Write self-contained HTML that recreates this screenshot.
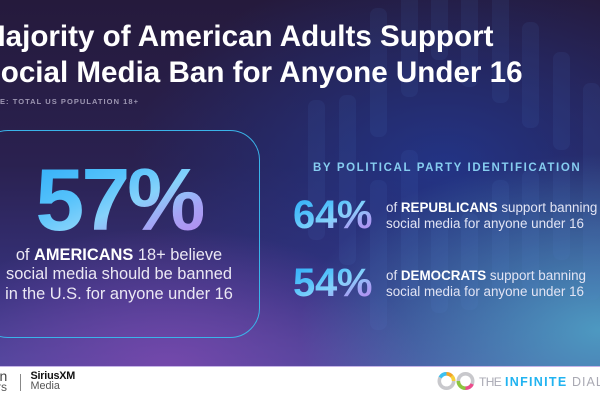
<!DOCTYPE html>
<html>
<head>
<meta charset="utf-8">
<style>
  html,body{margin:0;padding:0;}
  body{width:600px;height:400px;overflow:hidden;position:relative;background:#fff;font-family:"Liberation Sans",Arial,sans-serif;}
  .panel{position:absolute;left:0;top:0;width:600px;height:367px;overflow:hidden;
    background:
      radial-gradient(ellipse 50% 48% at 100% 90%, rgba(78,158,196,0.95), rgba(78,158,196,0) 100%),
      radial-gradient(ellipse 42% 38% at 28% 100%, rgba(118,72,172,0.95), rgba(118,72,172,0) 100%),
      radial-gradient(ellipse 52% 55% at 74% 45%, rgba(32,58,150,0.75), rgba(32,58,150,0) 100%),
      linear-gradient(180deg, #251a3c 0%, #2a2150 45%, #37337e 80%, #48479a 100%);}
  .bar{position:absolute;width:17px;border-radius:7px;background:rgba(95,135,225,0.085);}
  .abs{position:absolute;white-space:nowrap;}
  .title{left:-19px;font-size:29.6px;line-height:30px;font-weight:bold;color:#fff;}
  .grad{display:inline-block;background:linear-gradient(155deg,#2eacf8 0%,#55c2fb 35%,#86d2fb 55%,#a5a3f5 75%,#b884ef 100%);
    -webkit-background-clip:text;background-clip:text;color:transparent;-webkit-text-fill-color:transparent;}
  .rt{left:386px;font-size:13.4px;line-height:15.6px;color:#e2e4f4;}
  .rt b{color:#fff;}
</style>
</head>
<body>
<div class="panel">
  <div class="bar" style="left:308px;top:100px;height:140px;"></div>
  <div class="bar" style="left:339px;top:95px;height:170px;"></div>
  <div class="bar" style="left:370px;top:8px;height:129px;"></div>
  <div class="bar" style="left:370px;top:180px;height:150px;"></div>
  <div class="bar" style="left:401px;top:-10px;height:107px;"></div>
  <div class="bar" style="left:401px;top:150px;height:150px;"></div>
  <div class="bar" style="left:431px;top:-10px;height:70px;"></div>
  <div class="bar" style="left:431px;top:220px;height:93px;"></div>
  <div class="bar" style="left:461px;top:-10px;height:97px;"></div>
  <div class="bar" style="left:461px;top:213px;height:97px;"></div>
  <div class="bar" style="left:492px;top:-10px;height:113px;"></div>
  <div class="bar" style="left:492px;top:180px;height:113px;"></div>
  <div class="bar" style="left:522px;top:22px;height:106px;"></div>
  <div class="bar" style="left:522px;top:170px;height:120px;"></div>
  <div class="bar" style="left:553px;top:52px;height:98px;"></div>
  <div class="bar" style="left:553px;top:165px;height:95px;"></div>
  <div class="bar" style="left:583px;top:83px;height:217px;"></div>

  <div class="abs title" style="top:22.2px;">Majority of American Adults Support</div>
  <div class="abs title" style="top:58.2px;">Social Media Ban for Anyone Under 16</div>
  <div class="abs" style="left:-19px;top:98.1px;font-size:7.5px;line-height:8px;font-weight:bold;letter-spacing:1.05px;color:#9d96b2;">BASE: TOTAL US POPULATION 18+</div>

  <div class="abs" style="left:-22px;top:130px;width:282px;height:208px;box-sizing:border-box;border:1.6px solid #3ab4ea;border-radius:30px;"></div>

  <div class="abs" style="left:-1px;top:155.5px;width:240px;text-align:center;font-size:88px;line-height:88px;font-weight:bold;letter-spacing:-3px;"><span class="grad">57%</span></div>
  <div class="abs" style="left:-1px;top:245.6px;width:240px;text-align:center;font-size:16.4px;line-height:19.5px;color:#ebe8f4;">of <b style="color:#fff">AMERICANS</b> 18+ believe<br>social media should be banned<br>in the U.S. for anyone under 16</div>

  <div class="abs" style="left:313px;top:161.5px;font-size:11.5px;line-height:12px;font-weight:bold;letter-spacing:1.62px;color:#86cdf0;">BY POLITICAL PARTY IDENTIFICATION</div>

  <div class="abs" style="left:293px;top:195.1px;font-size:40px;line-height:40px;font-weight:bold;letter-spacing:-0.3px;"><span class="grad">64%</span></div>
  <div class="abs" style="left:293px;top:263.1px;font-size:40px;line-height:40px;font-weight:bold;letter-spacing:-0.3px;"><span class="grad">54%</span></div>

  <div class="abs rt" style="top:200.3px;">of <b>REPUBLICANS</b> support banning<br>social media for anyone under 16</div>
  <div class="abs rt" style="top:268.3px;">of <b>DEMOCRATS</b> support banning<br>social media for anyone under 16</div>
</div>

<div style="position:absolute;left:0;top:366px;width:600px;height:1px;background:#c6b5e8;"></div>
<div class="abs" style="left:-0.5px;top:369px;font-size:14px;line-height:14px;color:#444;">n</div>
<div class="abs" style="left:-3px;top:381px;font-size:12px;line-height:12px;color:#555;">rs</div>
<div class="abs" style="left:19.5px;top:374px;width:1px;height:17px;background:#888;"></div>
<div class="abs" style="left:30.5px;top:371px;font-size:10.8px;line-height:11px;font-weight:bold;letter-spacing:-0.2px;color:#111;">SiriusXM</div>
<div class="abs" style="left:30.5px;top:381px;font-size:10.8px;line-height:11px;color:#555;">Media</div>

<svg class="abs" style="left:0;top:0;" width="600" height="400" viewBox="0 0 600 400">
  <g fill="none" stroke-width="3.6">
    <circle cx="446.5" cy="381" r="7.2" stroke="#c8c8cc"/>
    <circle cx="465.5" cy="381" r="7.2" stroke="#c8c8cc"/>
    <path d="M440.2 377.5 A7.2 7.2 0 0 1 446.5 373.8" stroke="#3cc0f0"/>
    <path d="M446.5 373.8 A7.2 7.2 0 0 1 451.8 376.2" stroke="#f5a623"/>
    <path d="M451.8 376.2 A7.2 7.2 0 0 1 453.7 381" stroke="#f7d038"/>
    <path d="M458.3 381 A7.2 7.2 0 0 0 465.5 388.2" stroke="#8cc63f"/>
    <path d="M465.5 388.2 A7.2 7.2 0 0 0 472.2 384" stroke="#ec4c8c"/>
  </g>
</svg>
<div class="abs" style="left:479px;top:376.2px;font-size:12px;line-height:13px;letter-spacing:-0.6px;color:#a9a9b3;">THE</div>
<div class="abs" style="left:505px;top:376.2px;font-size:12.5px;line-height:13px;font-weight:bold;letter-spacing:1.3px;color:#21b3f0;">INFINITE</div>
<div class="abs" style="left:572px;top:376.2px;font-size:12.5px;line-height:13px;letter-spacing:1px;color:#a9a9b3;">DIAL</div>
</body>
</html>
